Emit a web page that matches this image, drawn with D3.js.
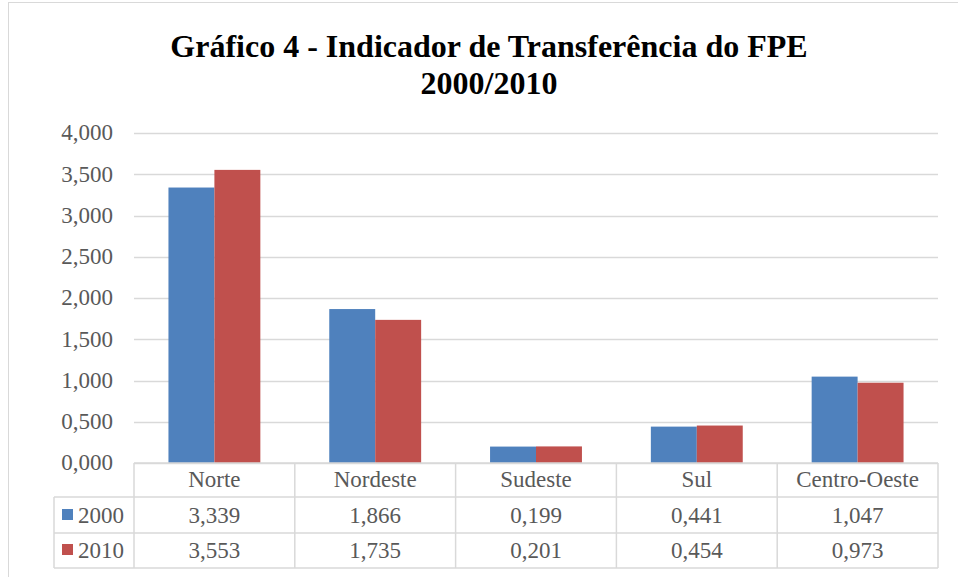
<!DOCTYPE html>
<html>
<head>
<meta charset="utf-8">
<script src="https://cdn.jsdelivr.net/npm/d3@7"></script>
<style>
  body { margin: 0; background: #fff; }
  svg text { font-family: "Liberation Serif", "Times New Roman", serif; }
</style>
</head>
<body>
<svg id="chart" width="958" height="577"></svg>
<script>
// data
var regions = ["Norte", "Nordeste", "Sudeste", "Sul", "Centro-Oeste"];
var years = ["2000", "2010"];
var values2000 = [3.339, 1.866, 0.199, 0.441, 1.047];
var values2010 = [3.553, 1.735, 0.201, 0.454, 0.973];
var yTicks = [0, 0.5, 1, 1.5, 2, 2.5, 3, 3.5, 4];

var colors = ["#4F81BD", "#C0504D"];
var series = [values2000, values2010];
var fmt = function(v) { return d3.format(".3f")(v).replace(".", ","); };
var textColor = "#595959", fs = 23;

var svg = d3.select("#chart");

// outer frame
svg.append("rect").attr("x", 8.5).attr("y", 2.5).attr("width", 960).attr("height", 590)
    .attr("fill", "none").attr("stroke", "#D9D9D9").attr("stroke-width", 1);

// title
var title = svg.append("text").attr("text-anchor", "middle").attr("font-weight", "bold")
    .attr("font-size", 32).attr("fill", "#000");
title.append("tspan").attr("x", 489).attr("y", 57).text("Gráfico 4 - Indicador de Transferência do FPE");
title.append("tspan").attr("x", 489).attr("y", 94).text("2000/2010");

var plotL = 134, plotR = 938, plotT = 133, plotB = 463;

var x = d3.scaleBand().domain(regions).range([plotL, plotR]).paddingInner(0).paddingOuter(0);
var y = d3.scaleLinear().domain([0, 4]).range([plotB, plotT]);
var x1 = d3.scaleBand().domain(years).range([0, x.bandwidth()]).paddingInner(0).paddingOuter(0.75);

// gridlines
svg.append("g").selectAll("line").data(yTicks).enter().append("line")
    .attr("x1", plotL).attr("x2", plotR)
    .attr("y1", function(d) { return Math.round(y(d)) + 0.5; })
    .attr("y2", function(d) { return Math.round(y(d)) + 0.5; })
    .attr("stroke", "#D9D9D9").attr("stroke-width", 1.3);

// y axis labels
var yAxis = d3.axisLeft(y).tickValues(yTicks).tickFormat(fmt).tickSize(0).tickPadding(0);
var ya = svg.append("g").attr("transform", "translate(113,0)").call(yAxis);
ya.select(".domain").remove();
ya.selectAll("text").attr("font-size", fs).attr("fill", textColor)
    .attr("font-family", "Liberation Serif, serif").attr("dy", "0.3em");

// bars
var groups = svg.append("g").selectAll("g").data(regions).enter().append("g")
    .attr("transform", function(d) { return "translate(" + x(d) + ",0)"; });
groups.selectAll("rect").data(function(d, i) {
        return years.map(function(yr, j) { return { year: yr, value: series[j][i], k: j }; });
    }).enter().append("rect")
    .attr("x", function(d) { return x1(d.year); })
    .attr("width", x1.bandwidth())
    .attr("y", function(d) { return y(d.value); })
    .attr("height", function(d) { return plotB - y(d.value); })
    .attr("fill", function(d) { return colors[d.k]; });

// data table
var rowH = [463, 497, 533, 568];
var tbl = svg.append("g").attr("stroke", "#D9D9D9").attr("stroke-width", 1.5).attr("fill", "none");
tbl.append("line").attr("x1", plotL).attr("x2", plotR).attr("y1", rowH[0]).attr("y2", rowH[0]);
[1, 2, 3].forEach(function(i) {
    tbl.append("line").attr("x1", 54).attr("x2", plotR).attr("y1", rowH[i]).attr("y2", rowH[i]);
});
tbl.append("line").attr("x1", 54).attr("x2", 54).attr("y1", rowH[1]).attr("y2", rowH[3]);
regions.forEach(function(r) {
    tbl.append("line").attr("x1", x(r)).attr("x2", x(r)).attr("y1", rowH[0]).attr("y2", rowH[3]);
});
tbl.append("line").attr("x1", plotR).attr("x2", plotR).attr("y1", rowH[0]).attr("y2", rowH[3]);

// header labels
svg.append("g").selectAll("text").data(regions).enter().append("text")
    .attr("x", function(d) { return x(d) + x.bandwidth() / 2; })
    .attr("y", 487)
    .attr("text-anchor", "middle").attr("font-size", fs).attr("fill", textColor)
    .text(function(d) { return d; });

// value rows
var rowBase = [523, 558];
years.forEach(function(yr, j) {
    var cy = rowBase[j];
    svg.append("rect").attr("x", 62).attr("y", cy - 14).attr("width", 11).attr("height", 11).attr("fill", colors[j]);
    svg.append("text").attr("x", 78).attr("y", cy).attr("font-size", fs).attr("fill", textColor).text(yr);
    svg.append("g").selectAll("text").data(series[j]).enter().append("text")
        .attr("x", function(d, i) { return x(regions[i]) + x.bandwidth() / 2; })
        .attr("y", cy)
        .attr("text-anchor", "middle").attr("font-size", fs).attr("fill", textColor)
        .text(function(d) { return fmt(d); });
});
</script>
</body>
</html>
